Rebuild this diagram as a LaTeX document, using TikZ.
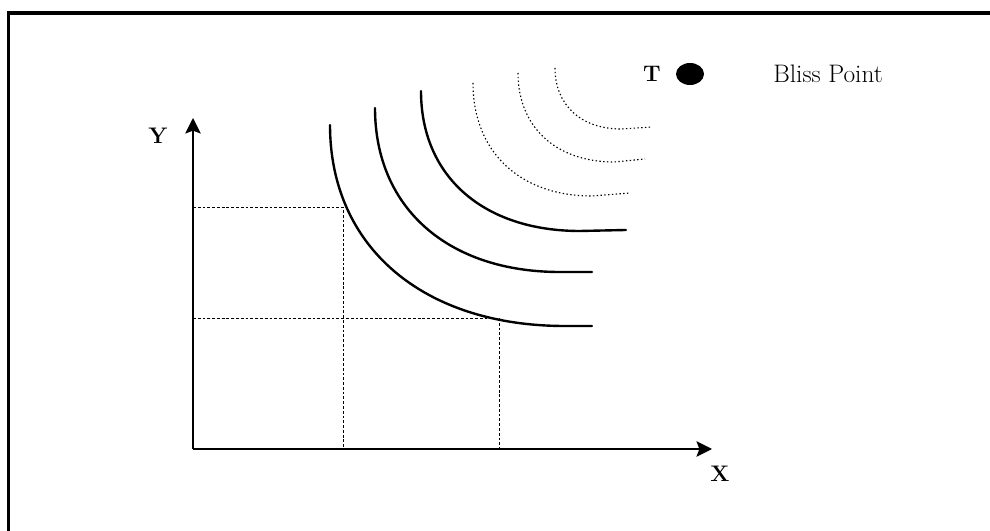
\documentclass[tikz,border=0pt]{standalone}
\usetikzlibrary{arrows.meta}

\begin{document}
\begin{tikzpicture}[x=0.025cm, y=0.025cm,
    indiff/.style={line width=1.7pt, line cap=round},
    faint/.style={line width=0.8pt, dash pattern=on 1pt off 1.7pt},
    guide/.style={line width=0.6pt, dash pattern=on 2pt off 1.4pt},
    axis/.style={line width=1.5pt, -{Stealth[length=11pt, width=11pt, inset=2pt]}},
    lbl/.style={font=\fontsize{16}{18}\selectfont\bfseries}]
          \useasboundingbox (0,0) rectangle (990,531);
          \draw[line width=2.2pt] (8.5,0) -- (8.5,518) -- (990,518);
          % axes
          \coordinate (O) at (193,82);
          \coordinate (ytip) at (193,413);
          \coordinate (xtip) at (712,82);
          \draw[axis] (O) -- (ytip);
          \draw[axis] (O) -- (xtip);
          \node[lbl] (ylab) at (158,395) {Y};
          \node[lbl] (xlab) at (720,57) {X};
          % guide lines
          \coordinate (ya) at (193,324);
          \coordinate (pa) at (343,324);
          \coordinate (xa) at (343,82);
          \coordinate (yb) at (193,213);
          \coordinate (pb) at (499,213);
          \coordinate (xb) at (499,82);
          \draw[guide] (ya) -- (pa) -- (xa);
          \draw[guide] (yb) -- (pb) -- (xb);
          % indifference curves
          \draw[indiff] (330,406) .. controls +(0,-122) and +(-142,0) .. (565,205) -- (592,205);
          \draw[indiff] (375,423) .. controls +(0,-100) and +(-112,0) .. (560,259) -- (592,259);
          \draw[indiff] (421,440) .. controls +(0,-86) and +(-96,0) .. (580,300) -- (626,301);
          \draw[faint] (473,448) .. controls +(0,-69) and +(-72,0) .. (592,335) -- (630,338);
          \draw[faint] (518,458) .. controls +(0,-54) and +(-58,0) .. (614,369) -- (645,372);
          \draw[faint] (555,463) .. controls +(0,-37) and +(-40,0) .. (621,402) -- (652,404);
          % bliss point
          \coordinate (dot) at (690,457);
          \fill (dot) ellipse [x radius=14, y radius=11];
          \node[lbl] (tlab) at (652,457) {T};
          \node[font=\fontsize{18}{20}\selectfont] (blisslab) at (828,457) {Bliss Point};
        \end{tikzpicture}
\end{document}
